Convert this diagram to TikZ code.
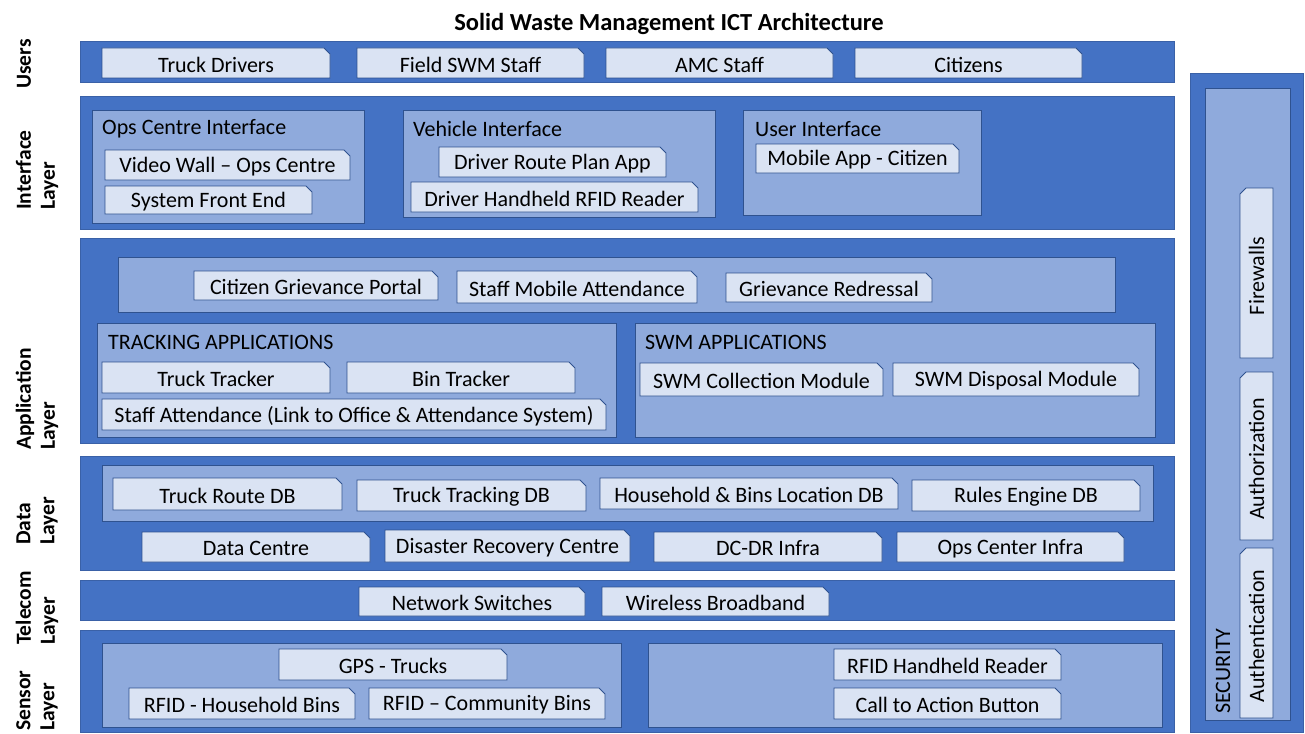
\documentclass[tikz,border=0pt]{standalone}
\usepackage{fontspec}
\setmainfont{Carlito}
\usepackage{xcolor}
\definecolor{bandblue}{HTML}{4472C4}
\definecolor{subblue}{HTML}{8FAADC}
\definecolor{boxblue}{HTML}{DAE3F3}
\definecolor{edgeblue}{HTML}{2F528F}

% snipped box: name, x1, y1, x2, y2, text
\newcommand{\snipbox}[6]{%
  \draw[boxline] (#2,#3) -- ({#4-6},#3) -- (#4,{#3+6}) -- (#4,#5) -- (#2,#5) -- cycle;
  \node[boxtext] (#1) at ({(#2+#4)/2},{(#3+#5)/2}) {#6};}
% same, standing upright
\newcommand{\snipboxv}[6]{%
  \draw[boxline] (#2,{#3+6}) -- ({#2+6},#3) -- (#4,#3) -- (#4,#5) -- (#2,#5) -- cycle;
  \node[boxtext, rotate=90, yshift=0pt, xshift=-1.5pt] (#1) at ({(#2+#4)/2},{(#3+#5)/2}) {#6};}

\begin{document}
\begin{tikzpicture}[x=1pt, y=-1pt, font=\fontsize{22}{24}\selectfont,
    band/.style={fill=bandblue, draw=bandblue!85!black, line width=0.8pt},
    subbox/.style={fill=subblue, draw=edgeblue, line width=0.8pt},
    boxline/.style={fill=boxblue, draw=edgeblue, line width=0.8pt},
    boxtext/.style={inner sep=0pt, text=black, yshift=-1.5pt},
    subtitle/.style={anchor=west, inner sep=0pt},
    layerlbl/.style={rotate=90, anchor=west, inner sep=0pt, align=left, font=\fontsize{21.5}{24}\selectfont\bfseries}]
    \useasboundingbox (0,0) rectangle (1305,733);

    \node[font=\fontsize{24.5}{28}\selectfont\bfseries] (title) at (669,24) {Solid Waste Management ICT Architecture};

    % layer names
    \node[layerlbl] (lblusers) at (24,89) {Users};
    \node[layerlbl] (lblinterface) at (37,210) {Interface\\Layer};
    \node[layerlbl] (lblapp) at (37,450) {Application\\Layer};
    \node[layerlbl] (lbldata) at (37,545) {Data\\Layer};
    \node[layerlbl] (lbltelecom) at (37,645) {Telecom\\Layer};
    \node[layerlbl] (lblsensor) at (37,731) {Sensor\\Layer};

    % users
    \draw[band] (80,41) rectangle (1174,82);
    \snipbox{drivers}{102}{48}{330}{78}{Truck Drivers}
    \snipbox{fieldstaff}{357}{48}{584}{78}{Field SWM Staff}
    \snipbox{amcstaff}{606}{48}{833}{78}{AMC Staff}
    \snipbox{citizens}{855}{48}{1082}{78}{Citizens}

    % interface layer
    \draw[band] (80,96) rectangle (1174,229);
    \draw[subbox] (92,110) rectangle (364,223);
    \node[subtitle] (opsif) at (102,129) {Ops Centre Interface};
    \snipbox{videowall}{105}{150}{350}{180}{Video Wall -- Ops Centre}
    \snipbox{frontend}{105}{186}{312}{214}{System Front End}
    \draw[subbox] (403,110) rectangle (715,217);
    \node[subtitle] (vehif) at (413,129) {Vehicle Interface};
    \snipbox{routeapp}{439}{147}{666}{177}{Driver Route Plan App}
    \snipbox{drvrfid}{411}{182}{698}{212}{Driver Handheld RFID Reader}
    \draw[subbox] (743,110) rectangle (981,215);
    \node[subtitle] (userif) at (755,129) {User Interface};
    \snipbox{mobileapp}{756}{144}{959}{173}{Mobile App - Citizen}

    % application layer
    \draw[band] (80,238) rectangle (1174,443);
    \draw[subbox] (118,257) rectangle (1115,312);
    \snipbox{grvportal}{194}{271}{438}{300}{Citizen Grievance Portal}
    \snipbox{mobattend}{457}{271}{697}{303}{Staff Mobile Attendance}
    \snipbox{redressal}{726}{273}{932}{302}{Grievance Redressal}
    \draw[subbox] (97,323) rectangle (616,437);
    \node[subtitle] (trackapps) at (108,342) {TRACKING APPLICATIONS};
    \snipbox{trucktrk}{102}{362}{330}{393}{Truck Tracker}
    \snipbox{bintrk}{347}{362}{575}{393}{Bin Tracker}
    \snipbox{staffatt}{102}{399}{606}{430}{Staff Attendance (Link to Office \& Attendance System)}
    \draw[subbox] (635,323) rectangle (1155,437);
    \node[subtitle] (swmapps) at (645,342) {SWM APPLICATIONS};
    \snipbox{collect}{640}{363}{883}{396}{SWM Collection Module}
    \snipbox{disposal}{893}{363}{1139}{396}{SWM Disposal Module}

    % data layer
    \draw[band] (80,456) rectangle (1174,570);
    \draw[subbox] (102,465) rectangle (1153,521);
    \snipbox{routedb}{113}{478}{342}{510}{Truck Route DB}
    \snipbox{trackdb}{357}{480}{586}{511}{Truck Tracking DB}
    \snipbox{bindb}{600}{478}{898}{509}{Household \& Bins Location DB}
    \snipbox{rulesdb}{912}{480}{1140}{511}{Rules Engine DB}
    \snipbox{datacentre}{142}{532}{370}{562}{Data Centre}
    \snipbox{drcentre}{385}{530}{630}{562}{Disaster Recovery Centre}
    \snipbox{dcdr}{654}{532}{882}{562}{DC-DR Infra}
    \snipbox{opsinfra}{897}{532}{1124}{562}{Ops Center Infra}

    % telecom layer
    \draw[band] (80,580) rectangle (1174,620);
    \snipbox{switches}{359}{587}{585}{616}{Network Switches}
    \snipbox{broadband}{602}{587}{829}{616}{Wireless Broadband}

    % sensor layer
    \draw[band] (80,630) rectangle (1174,732);
    \draw[subbox] (102,643) rectangle (621,727);
    \snipbox{gps}{279}{649}{507}{680}{GPS - Trucks}
    \snipbox{rfidhouse}{129}{688}{355}{719}{RFID - Household Bins}
    \snipbox{rfidcomm}{369}{688}{605}{719}{RFID -- Community Bins}
    \draw[subbox] (648,643) rectangle (1162,727);
    \snipbox{rfidreader}{834}{649}{1061}{680}{RFID Handheld Reader}
    \snipbox{callbtn}{834}{688}{1061}{719}{Call to Action Button}

    % security
    \draw[band] (1190,73) rectangle (1303,732);
    \draw[subbox] (1205,88) rectangle (1290,720);
    \node[rotate=90, anchor=west, inner sep=0pt] (security) at (1223,714) {SECURITY};
    \snipboxv{firewalls}{1240}{188}{1273}{358}{Firewalls}
    \snipboxv{authz}{1240}{372}{1273}{540}{Authorization}
    \snipboxv{authn}{1240}{548}{1273}{718}{Authentication}
\end{tikzpicture}
\end{document}
